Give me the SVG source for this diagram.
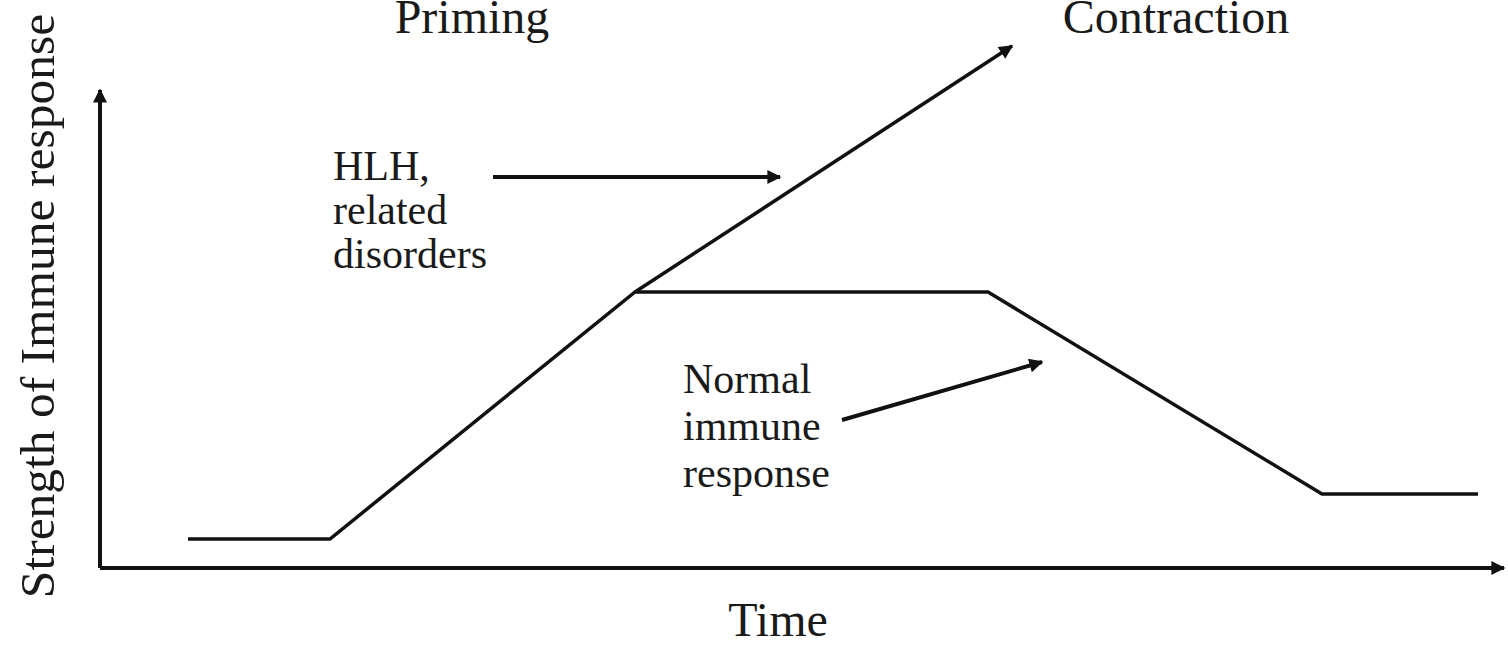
<svg xmlns="http://www.w3.org/2000/svg" width="1508" height="649" viewBox="0 0 1508 649">
<defs>
<marker id="ah" viewBox="0 0 10 10" refX="9" refY="5" markerWidth="18" markerHeight="14" markerUnits="userSpaceOnUse" orient="auto">
<path d="M0,0 L10,5 L0,10 z" fill="#111"/>
</marker>
<style>
text{font-family:"Liberation Serif","Times New Roman",serif;fill:#1a1a1a}
.t{font-size:48px}
.y{font-size:49.5px}
.l{font-size:42px}
.ax{stroke:#111;stroke-width:4;fill:none}
.cv{stroke:#111;stroke-width:3.5;fill:none;stroke-linejoin:miter}
.ar{stroke:#111;stroke-width:4;fill:none}
</style>
</defs>
<rect width="1508" height="649" fill="#fff"/>
<g id="axes">
<path class="ax" d="M100,568 V90" marker-end="url(#ah)"/>
<path class="ax" d="M100,568 H1504" marker-end="url(#ah)"/>
</g>
<g id="connectors">
<path class="cv" d="M188,539 H330 L635,292 H988 L1322,494 H1478"/>
<path class="cv" d="M635,292 L1012,46" marker-end="url(#ah)"/>
<path class="ar" d="M493,177 H780" marker-end="url(#ah)"/>
<path class="ar" d="M842,420 L1042,362" marker-end="url(#ah)"/>
</g>
<g id="ylabel"><text class="y" transform="translate(54,306) rotate(-90)" text-anchor="middle">Strength of Immune response</text></g>
<g id="xlabel"><text class="t" x="778" y="636" text-anchor="middle">Time</text></g>
<g id="priming"><text class="t" x="472" y="33" text-anchor="middle">Priming</text></g>
<g id="contraction"><text class="t" x="1176" y="33" text-anchor="middle">Contraction</text></g>
<g id="hlh"><text class="l" x="333" y="180">HLH,</text><text class="l" x="333" y="224">related</text><text class="l" x="333" y="268">disorders</text></g>
<g id="normal"><text class="l" x="683" y="393">Normal</text><text class="l" x="683" y="440">immune</text><text class="l" x="683" y="487">response</text></g>
</svg>
